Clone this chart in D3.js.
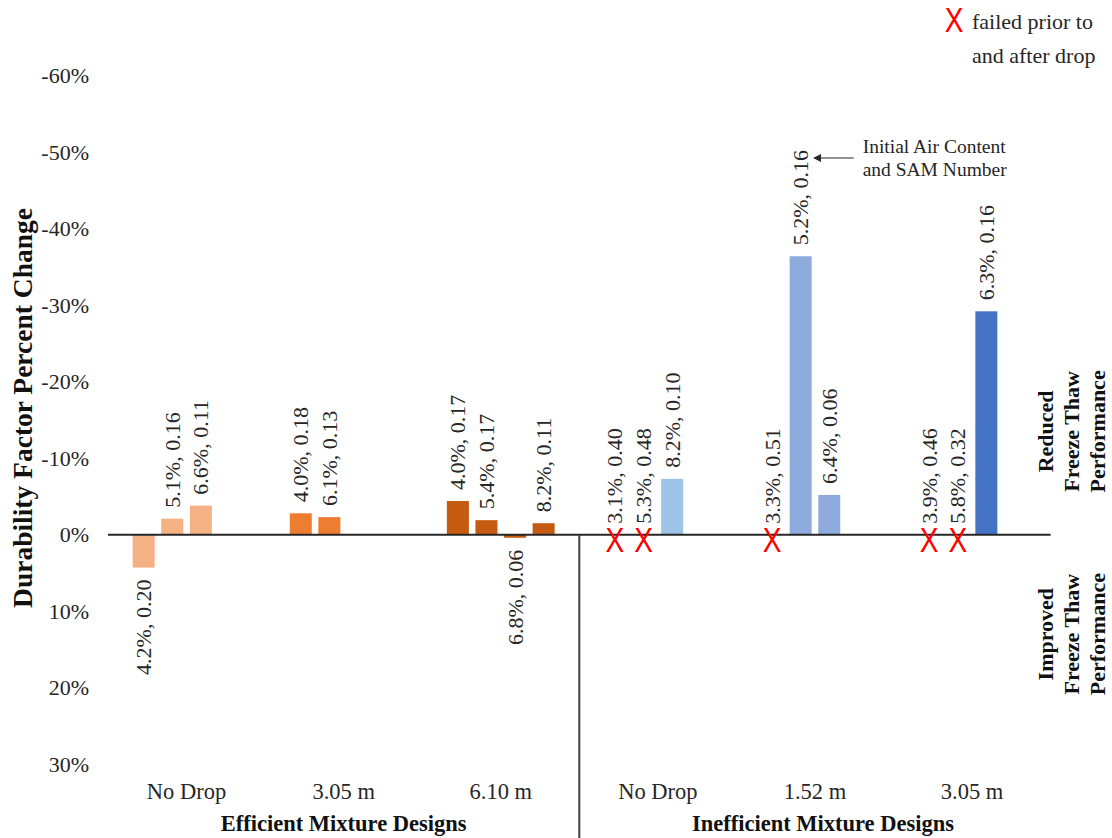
<!DOCTYPE html>
<html>
<head>
<meta charset="utf-8">
<script src="https://cdn.jsdelivr.net/npm/d3@7"></script>
<style>
  html, body { margin: 0; padding: 0; background: #ffffff; }
  svg { display: block; font-family: "Liberation Serif", "Times New Roman", serif; }
</style>
</head>
<body>
<svg id="chart" width="1112" height="838"></svg>
<script>
// Drop height categories, split into the two mixture-design groups
const categories = ["No Drop", "3.05 m", "6.10 m", "No Drop", "1.52 m", "3.05 m"];
const categoryGroup = [0, 0, 0, 1, 1, 1];
const groupNames = ["Efficient Mixture Designs", "Inefficient Mixture Designs"];
const categoryColors = ["#F4B183", "#ED7D31", "#C55A11", "#9DC3E6", "#8FAADC", "#4472C4"];

// Durability factor percent change per specimen slot (negative = reduced performance)
const dfChange = [
  [4.3, -2.1, -3.8, null],
  [-2.8, -2.3, null, null],
  [-4.4, -1.9, 0.4, -1.5],
  [null, null, -7.3, null],
  [null, -36.4, -5.2, null],
  [null, null, -29.2, null]
];

// Specimens that failed both before and after the drop
const failedBoth = [
  [false, false, false, false],
  [false, false, false, false],
  [false, false, false, false],
  [true, true, false, false],
  [true, false, false, false],
  [true, true, false, false]
];

// Initial air content and SAM number of each specimen
const airSam = [
  ["4.2%, 0.20", "5.1%, 0.16", "6.6%, 0.11", null],
  ["4.0%, 0.18", "6.1%, 0.13", null, null],
  ["4.0%, 0.17", "5.4%, 0.17", "6.8%, 0.06", "8.2%, 0.11"],
  ["3.1%, 0.40", "5.3%, 0.48", "8.2%, 0.10", null],
  ["3.3%, 0.51", "5.2%, 0.16", "6.4%, 0.06", null],
  ["3.9%, 0.46", "5.8%, 0.32", "6.3%, 0.16", null]
];

const yTicks = [-60, -50, -40, -30, -20, -10, 0, 10, 20, 30];

const svg = d3.select("#chart");
const textColor = "#262626";

const x0 = d3.scaleBand().domain(d3.range(categories.length)).range([108, 1050.6]);
const slot = d3.scaleBand().domain(d3.range(4)).range([0, x0.bandwidth()])
  .paddingInner(0.23).paddingOuter(0.862);
const y = d3.scaleLinear().domain([-60, 30]).range([75.7, 764.2]);

const records = [];
airSam.forEach((row, i) => row.forEach((lab, j) => {
  if (lab === null) return;
  records.push({
    cat: i, slotIdx: j, label: lab,
    value: dfChange[i][j],
    failed: failedBoth[i][j],
    cx: x0(i) + slot(j) + slot.bandwidth() / 2
  });
}));

// Y axis (percent labels only)
const yAxis = svg.append("g")
  .attr("transform", "translate(95,0)")
  .call(d3.axisLeft(y).tickValues(yTicks).tickFormat(d => d + "%").tickSize(0).tickPadding(6));
yAxis.select(".domain").remove();
yAxis.selectAll("text")
  .attr("font-family", "'Liberation Serif', 'Times New Roman', serif")
  .attr("font-size", 22).attr("fill", textColor);

// Bars
svg.append("g").selectAll("rect")
  .data(records.filter(d => d.value !== null))
  .join("rect")
  .attr("x", d => x0(d.cat) + slot(d.slotIdx))
  .attr("width", slot.bandwidth())
  .attr("y", d => Math.min(y(d.value), y(0)))
  .attr("height", d => Math.abs(y(d.value) - y(0)))
  .attr("fill", d => categoryColors[d.cat]);

// Zero line
svg.append("line")
  .attr("x1", x0.range()[0]).attr("x2", x0.range()[1])
  .attr("y1", y(0)).attr("y2", y(0))
  .attr("stroke", textColor).attr("stroke-width", 2);

// Divider between the mixture-design groups
svg.append("line")
  .attr("x1", x0(3)).attr("x2", x0(3))
  .attr("y1", y(0)).attr("y2", 838)
  .attr("stroke", "#404040").attr("stroke-width", 2);

// Air content / SAM labels at the outer end of each bar
svg.append("g").selectAll("text")
  .data(records)
  .join("text")
  .attr("transform", d => {
    const v = d.value === null ? 0 : d.value;
    const yy = v > 0 ? y(v) + 12 : y(v) - 11;
    return `translate(${d.cx},${yy}) rotate(-90)`;
  })
  .attr("text-anchor", d => (d.value !== null && d.value > 0) ? "end" : "start")
  .attr("dominant-baseline", "central")
  .attr("font-size", 22).attr("fill", textColor)
  .text(d => d.label);

// Red X marks for failed specimens
function redX(sel, xx, yy) {
  sel.append("text")
    .attr("transform", `translate(${xx},${yy}) scale(0.78,1)`)
    .attr("text-anchor", "middle")
    .attr("font-family", "'Liberation Sans', Arial, sans-serif")
    .attr("font-size", 36).attr("fill", "#FF0000")
    .text("X");
}
records.filter(d => d.failed).forEach(d => redX(svg, d.cx, y(0) + 17));

// Category labels
const xAxis = svg.append("g")
  .attr("transform", "translate(0,783)")
  .call(d3.axisBottom(x0).tickFormat(i => categories[i]).tickSize(0).tickPadding(0));
xAxis.select(".domain").remove();
xAxis.selectAll("text")
  .attr("font-family", "'Liberation Serif', 'Times New Roman', serif")
  .attr("font-size", 22.5).attr("fill", textColor);

// Group labels
groupNames.forEach((name, g) => {
  const idx = d3.range(categories.length).filter(i => categoryGroup[i] === g);
  const cx = d3.mean(idx, i => x0(i) + x0.bandwidth() / 2);
  svg.append("text")
    .attr("x", cx + (g === 1 ? 8 : 0)).attr("y", 831)
    .attr("text-anchor", "middle")
    .attr("font-size", 22.5).attr("font-weight", "bold").attr("fill", "#111")
    .text(name);
});

// Y axis title
svg.append("text")
  .attr("transform", "translate(22,408) rotate(-90)")
  .attr("text-anchor", "middle").attr("dominant-baseline", "central")
  .attr("font-size", 27.5).attr("font-weight", "bold").attr("fill", "#111")
  .text("Durability Factor Percent Change");

// Performance direction notes on the right
function sideNote(lines, cy) {
  const g = svg.append("g").attr("transform", `translate(1071,${cy}) rotate(-90)`);
  lines.forEach((t, k) => {
    g.append("text")
      .attr("x", 0).attr("y", (k - 1) * 26)
      .attr("text-anchor", "middle").attr("dominant-baseline", "central")
      .attr("font-size", 22).attr("font-weight", "bold").attr("fill", "#111")
      .text(t);
  });
}
sideNote(["Reduced", "Freeze Thaw", "Performance"], y(-13.5));
sideNote(["Improved", "Freeze Thaw", "Performance"], y(13));

// Legend for the X marks
redX(svg, 954, 32);
svg.append("text").attr("x", 972).attr("y", 29)
  .attr("font-size", 22).attr("fill", textColor).text("failed prior to");
svg.append("text").attr("x", 972).attr("y", 63)
  .attr("font-size", 22).attr("fill", textColor).text("and after drop");

// Annotation pointing to the label of the tallest bar
const tall = records.find(d => d.cat === 4 && d.slotIdx === 1);
const defs = svg.append("defs");
defs.append("marker")
  .attr("id", "arrowHead").attr("viewBox", "0 0 10 10")
  .attr("refX", 1).attr("refY", 5)
  .attr("markerWidth", 7).attr("markerHeight", 7)
  .attr("orient", "auto-start-reverse")
  .append("path").attr("d", "M0,0 L10,5 L0,10 z").attr("fill", textColor);
svg.append("line")
  .attr("x1", tall.cx + 53).attr("x2", tall.cx + 20)
  .attr("y1", 158).attr("y2", 158)
  .attr("stroke", textColor).attr("stroke-width", 1.2)
  .attr("marker-end", "url(#arrowHead)");
svg.append("text").attr("x", tall.cx + 62).attr("y", 153)
  .attr("font-size", 19.5).attr("fill", textColor).text("Initial Air Content");
svg.append("text").attr("x", tall.cx + 62).attr("y", 176)
  .attr("font-size", 19.5).attr("fill", textColor).text("and SAM Number");
</script>
</body>
</html>
